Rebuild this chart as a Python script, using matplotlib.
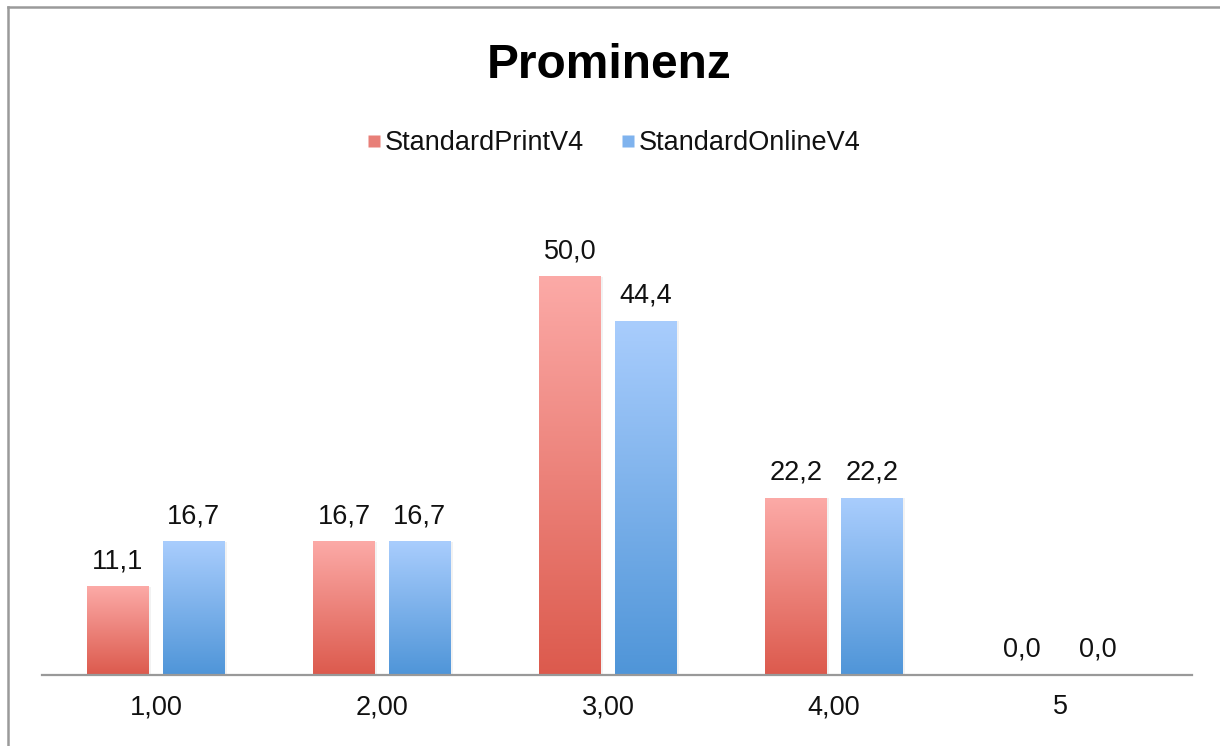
import numpy as np
import matplotlib.pyplot as plt
from matplotlib.colors import LinearSegmentedColormap
from matplotlib.lines import Line2D

plt.rcParams['font.family'] = ['Liberation Sans', 'DejaVu Sans']

# Prominenz ratings, share in percent
categories = ['1,00', '2,00', '3,00', '4,00', '5']
print_v4 = [11.1, 16.7, 50.0, 22.2, 0.0]
online_v4 = [16.7, 16.7, 44.4, 22.2, 0.0]
series_names = ['StandardPrintV4', 'StandardOnlineV4']

# top / bottom colours of the bar gradients
red_grad = ['#fcaaa7', '#dc5a4d']
blue_grad = ['#a9cdfd', '#4f95d8']

fig = plt.figure(figsize=(12.2, 7.46), dpi=100)
W, H = 1220, 746
ax = fig.add_axes([42 / W, 71 / H, 1150 / W, 478 / H])

x = np.arange(len(categories))
width = 0.27
offset = 0.168

bars_p = ax.bar(x - offset, print_v4, width, color='none', label=series_names[0])
bars_o = ax.bar(x + offset, online_v4, width, color='none', label=series_names[1])

grad = np.linspace(0, 1, 256).reshape(-1, 1)


def fill_gradient(bars, cols):
    cmap = LinearSegmentedColormap.from_list('g', cols)
    for b in bars:
        h = b.get_height()
        if h <= 0:
            continue
        x0 = b.get_x()
        # soft shadow on the right edge
        ax.bar(x0 + b.get_width() / 2 + 0.01, h, b.get_width(), color='#000000',
               alpha=0.05, zorder=1)
        ax.imshow(grad, cmap=cmap, aspect='auto', zorder=2,
                  extent=[x0, x0 + b.get_width(), 0, h], interpolation='bicubic')


fill_gradient(bars_p, red_grad)
fill_gradient(bars_o, blue_grad)

# value labels above the bars
for bars in (bars_p, bars_o):
    for b in bars:
        h = b.get_height()
        ax.annotate(f'{h:.1f}'.replace('.', ','),
                    (b.get_x() + b.get_width() / 2, h),
                    xytext=(0, 9), textcoords='offset points',
                    ha='center', va='bottom', fontsize=19.5, color='#111111')

ax.set_xlim(-0.504, 4.584)
ax.set_ylim(0, 60)
ax.set_xticks(x)
ax.set_xticklabels(categories, fontsize=19.5, color='#111111')
ax.tick_params(axis='x', length=0, pad=14)
ax.set_yticks([])
for s in ['top', 'right', 'left']:
    ax.spines[s].set_visible(False)
ax.spines['bottom'].set_color('#999999')
ax.spines['bottom'].set_linewidth(1.6)
ax.set_facecolor('none')

fig.text(609 / W, 1 - 65 / H, 'Prominenz', ha='center', va='center',
         fontsize=34.5, fontweight='bold')

# legend with small gradient-coloured squares
handles = [Line2D([], [], marker='s', linestyle='none', markersize=9,
                  markerfacecolor='#e87f78', markeredgecolor='none'),
           Line2D([], [], marker='s', linestyle='none', markersize=9,
                  markerfacecolor='#7fb3ee', markeredgecolor='none')]
fig.legend(handles, series_names, loc='center', bbox_to_anchor=(614 / W, 1 - 143 / H),
           ncol=2, frameon=False, fontsize=19.5, handlelength=0.5, handletextpad=0.15,
           columnspacing=1.4, labelcolor='#111111')

# chart frame (top and left edges)
fig.add_artist(Line2D([8 / W, 1], [1 - 7 / H, 1 - 7 / H], color='#9a9a9a', lw=1.8,
                      transform=fig.transFigure))
fig.add_artist(Line2D([8 / W, 8 / W], [0, 1 - 7 / H], color='#9a9a9a', lw=1.8,
                      transform=fig.transFigure))

fig.savefig('out.png', dpi=100)
